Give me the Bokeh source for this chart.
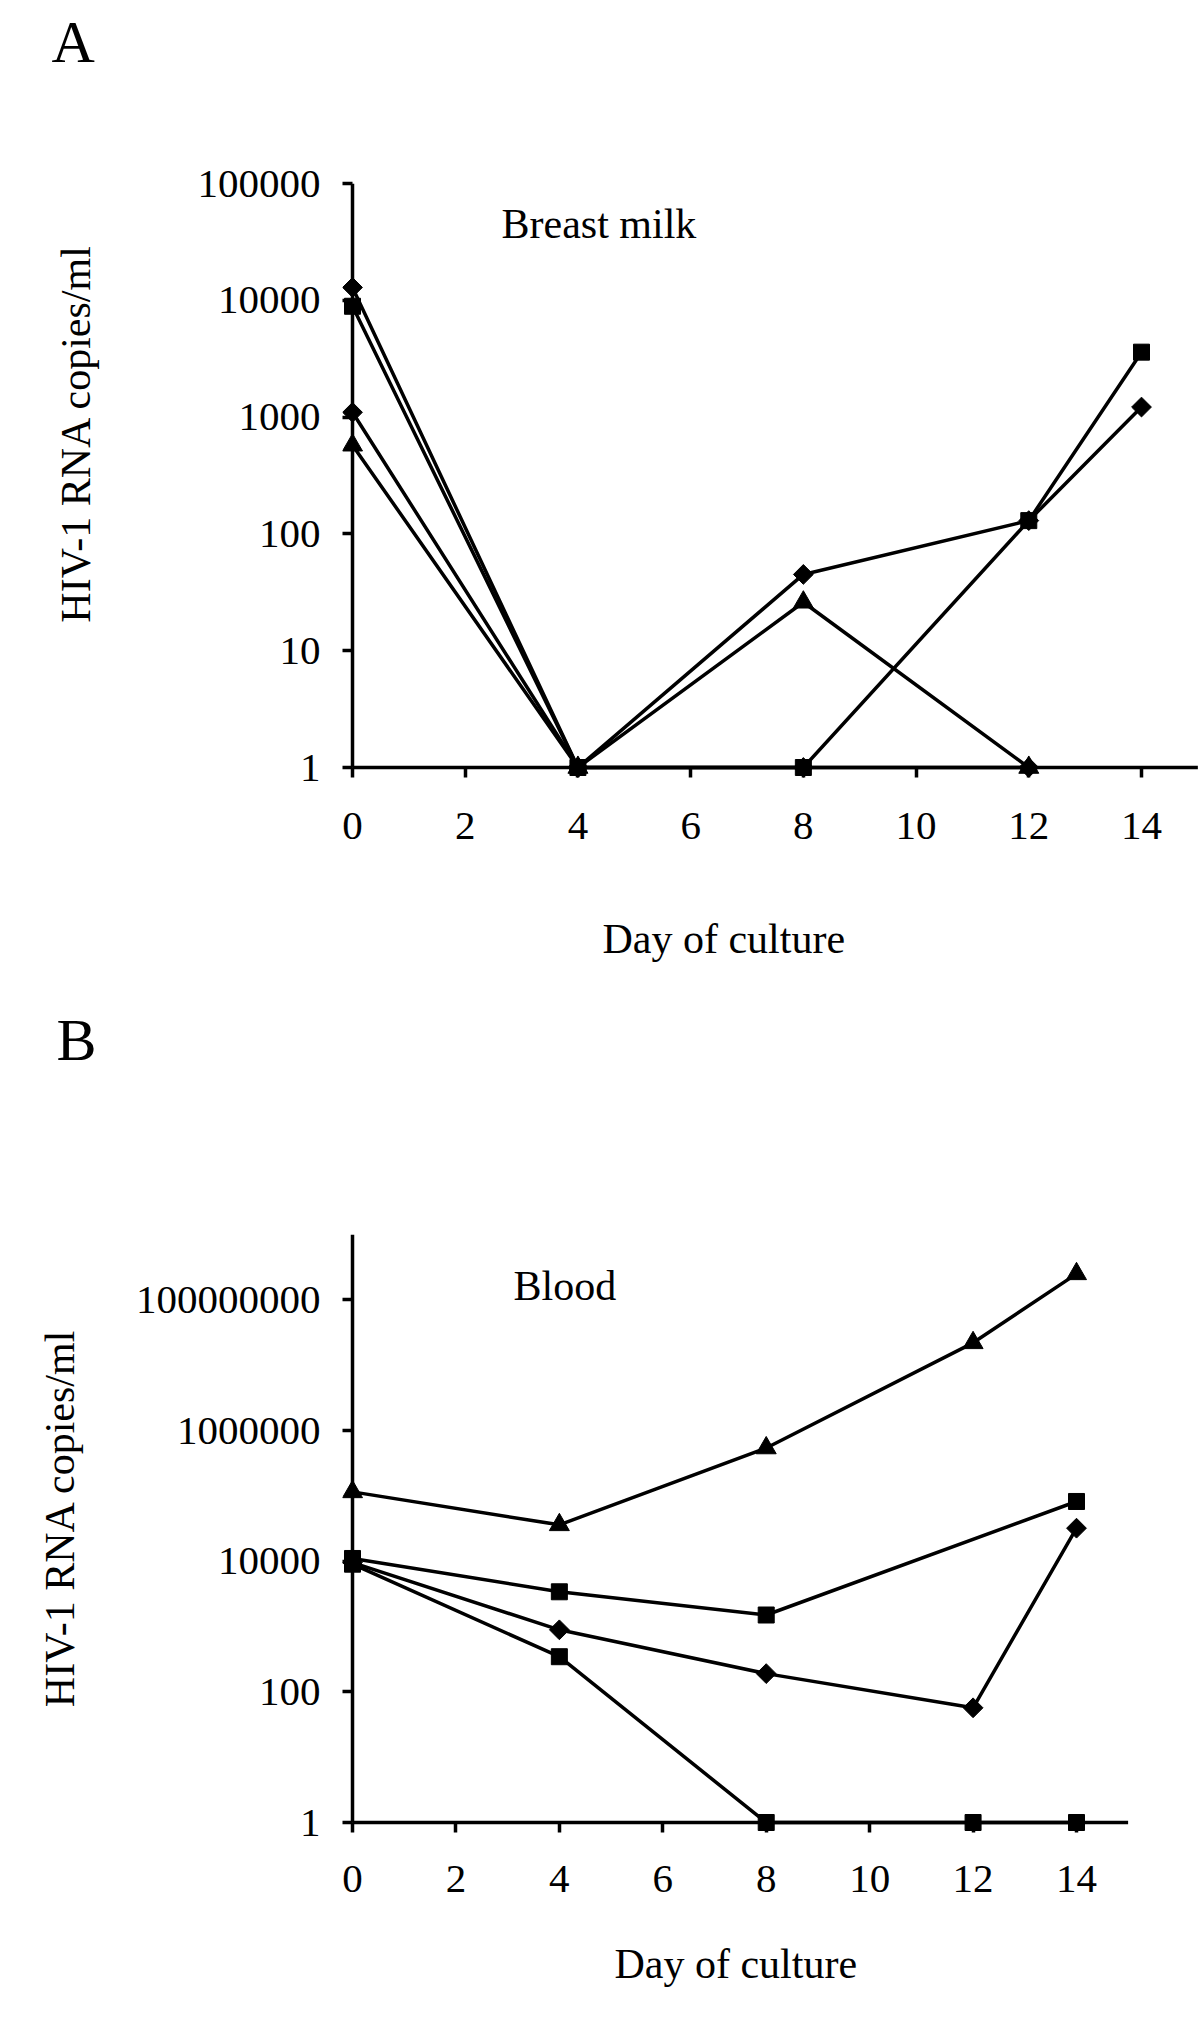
import math
from bokeh.plotting import figure
from bokeh.models import FixedTicker, PrintfTickFormatter, Title
from bokeh.embed import file_html
from bokeh.resources import INLINE

# ---------------- data ----------------
x_ticks = [0, 2, 4, 6, 8, 10, 12, 14]
x_tick_labels = ["0", "2", "4", "6", "8", "10", "12", "14"]

# Panel A - Breast milk
a_ticks = [1, 10, 100, 1000, 10000, 100000]
a_tick_labels = ["1", "10", "100", "1000", "10000", "100000"]
a_diamond1_days = [0, 4, 8, 12, 14]
a_diamond1 = [12900, 1, 45, 130, 1220]
a_square1_days = [0, 4, 8, 12, 14]
a_square1 = [8900, 1, 1, 130, 3600]
a_diamond2_days = [0, 4, 8, 12]
a_diamond2 = [1100, 1, 1, 1]
a_triangle1_days = [0, 4, 8, 12]
a_triangle1 = [575, 1, 26, 1]

# Panel B - Blood
b_ticks = [1, 100, 10000, 1000000, 100000000]
b_tick_labels = ["1", "100", "10000", "1000000", "100000000"]
b_triangle1_days = [0, 4, 8, 12, 14]
b_triangle1 = [115000, 36000, 540000, 22000000, 250000000]
b_square1_days = [0, 4, 8, 14]
b_square1 = [11000, 3400, 1500, 82000]
b_diamond1_days = [0, 4, 8, 12, 14]
b_diamond1 = [9500, 890, 190, 57, 32000]
b_square2_days = [0, 4, 8, 12, 14]
b_square2 = [9000, 345, 1, 1, 1]

FONT = "Liberation Serif"
LW = 3.5
NBSP = "\u00a0"


def add_spacer(p, loc, standoff):
    p.add_layout(Title(text=" ", standoff=standoff, text_font=FONT,
                       text_font_size="10px", text_color="white"), loc)


def add_title(p, text, loc, size, align, offset, standoff, lead=0):
    kw = dict(text=NBSP * lead + text, align=align, standoff=standoff,
              text_font=FONT, text_font_size=size, text_font_style="normal",
              text_color="black")
    if loc in ("above", "below"):
        kw["offset"] = offset
    p.add_layout(Title(**kw), loc)


def build(fig_top, fig_h, frame_top, frame_bottom, frame_right, x0_px, x14_px,
          y1_px, top_dec, x_axis_end, yticks, ylabels, series, inner_text,
          xl_standoff):
    fig_left, fig_w = 0, 1200
    frame_left = x0_px - 10
    ppx = (x14_px - x0_px) / 14.0
    ppd = (y1_px - frame_top) / float(top_dec)
    xs = (frame_left - x0_px) / ppx
    xe = (frame_right - x0_px) / ppx
    ys = 10 ** (-(frame_bottom - y1_px) / ppd)
    ye = 10 ** (top_dec + 0.0005)

    def X(px):
        return (px - x0_px) / ppx

    def Y(py):
        return 10 ** ((y1_px - py) / ppd)

    p = figure(width=fig_w, height=fig_h, x_range=(xs, xe), y_range=(ys, ye),
               y_axis_type="log", output_backend="svg", toolbar_location=None,
               title=None,
               min_border_left=frame_left - fig_left,
               min_border_right=fig_left + fig_w - frame_right,
               min_border_top=frame_top - fig_top,
               min_border_bottom=fig_top + fig_h - frame_bottom)
    p.outline_line_color = None
    p.grid.grid_line_color = None
    p.background_fill_color = "white"
    p.border_fill_color = "white"

    for ax in (p.xaxis, p.yaxis):
        ax.axis_line_color = None
        ax.major_tick_in = 10
        ax.major_tick_out = 0
        ax.major_tick_line_width = LW
        ax.major_tick_line_color = "black"
        ax.minor_tick_line_color = None
        ax.major_label_text_font = FONT
        ax.major_label_text_font_size = "41px"
        ax.major_label_text_color = "black"
    p.xaxis.ticker = FixedTicker(ticks=x_ticks)
    p.xaxis.major_label_overrides = {t: l for t, l in zip(x_ticks, x_tick_labels)}
    p.xaxis.major_label_standoff = xl_standoff
    p.yaxis.ticker = FixedTicker(ticks=yticks)
    p.yaxis.formatter = PrintfTickFormatter(format="%d")
    p.yaxis.major_label_overrides = {t: l for t, l in zip(yticks, ylabels)}
    p.yaxis.major_label_standoff = 22

    # axis lines (y axis from 1 to top, x axis from 0 to end)
    p.segment(x0=[0, 0], y0=[1, 1], x1=[0, x_axis_end], y1=[10 ** top_dec, 1],
              line_color="black", line_width=LW)

    for days, vals, kind in series:
        p.line(days, vals, line_color="black", line_width=LW)
    for days, vals, kind in series:
        if kind == "diamond":
            p.scatter(days, vals, marker="square", angle=math.pi / 4, size=14,
                      color="black")
        elif kind == "square":
            p.scatter(days, vals, marker="square", size=16, color="black")
        else:
            p.scatter(days, vals, marker="triangle", size=20, color="black")

    txt, px, py = inner_text
    p.text(x=[X(px)], y=[Y(py)], text=[txt], text_font={"value": FONT},
           text_font_size={"value": "42px"}, text_color="black",
           text_align="left", text_baseline="alphabetic")
    return p


pa = build(
    fig_top=0, fig_h=985, frame_top=183, frame_bottom=777, frame_right=1200,
    x0_px=352, x14_px=1141, y1_px=767, top_dec=5, x_axis_end=15,
    yticks=a_ticks, ylabels=a_tick_labels,
    series=[(a_diamond2_days, a_diamond2, "diamond"),
            (a_triangle1_days, a_triangle1, "triangle"),
            (a_diamond1_days, a_diamond1, "diamond"),
            (a_square1_days, a_square1, "square")],
    inner_text=("Breast milk", 501, 223),
    xl_standoff=35)
add_spacer(pa, "above", 96)
add_title(pa, "A", "above", "60px", "left", 51 - 342, 0)
add_spacer(pa, "below", 59)
add_title(pa, "Day of culture", "below", "42px", "left", 602 - 342, 0)
add_spacer(pa, "left", 83)
add_title(pa, "HIV-1 RNA copies/ml", "left", "42px", "center", 0, 0, lead=9)

pb = build(
    fig_top=985, fig_h=1036, frame_top=1234, frame_bottom=1832, frame_right=1128,
    x0_px=352, x14_px=1076, y1_px=1822, top_dec=9, x_axis_end=15,
    yticks=b_ticks, ylabels=b_tick_labels,
    series=[(b_diamond1_days, b_diamond1, "diamond"),
            (b_square2_days, b_square2, "square"),
            (b_square1_days, b_square1, "square"),
            (b_triangle1_days, b_triangle1, "triangle")],
    inner_text=("Blood", 513, 1285),
    xl_standoff=33)
add_spacer(pb, "above", 149)
add_title(pb, "B", "above", "60px", "left", 56 - 342, 0)
add_spacer(pb, "below", 31)
add_title(pb, "Day of culture", "below", "42px", "left", 614 - 342, 0)
add_spacer(pb, "left", 37)
add_title(pb, "HIV-1 RNA copies/ml", "left", "42px", "center", 0, 0, lead=3)

open("out.html", "w").write(file_html([pa, pb], INLINE))
